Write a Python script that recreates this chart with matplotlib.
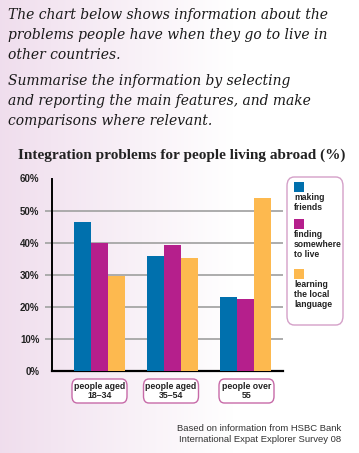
import numpy as np
import matplotlib
matplotlib.use("Agg")
import matplotlib.pyplot as plt
from matplotlib.patches import FancyBboxPatch, Rectangle

groups = ["people aged\n18–34", "people aged\n35–54", "people over\n55"]
series = ["making\nfriends", "finding\nsomewhere\nto live", "learning\nthe local\nlanguage"]
making_friends = [46.5, 36, 23]
finding_home = [40, 39.2, 22.3]
learning_language = [29.5, 35.3, 54]
colors = ["#0070ad", "#b51f8c", "#fdb94f"]
yticks = [0, 10, 20, 30, 40, 50, 60]

W, H = 359, 453
fig = plt.figure(figsize=(W / 100, H / 100), dpi=100)

# pinkish gradient background
bg = fig.add_axes([0, 0, 1, 1], zorder=-10)
grad = np.clip(np.linspace(0, 1, 256) / 0.65, 0, 1)
left = np.array([0.94, 0.87, 0.93])
img = left[None, :] * (1 - grad[:, None]) + np.ones(3)[None, :] * grad[:, None]
bg.imshow(img[None, :, :], aspect="auto", extent=[0, 1, 0, 1])
bg.axis("off")

def fx(px):
    return px / W

def fy(py):
    return 1 - py / H

prompt1 = "The chart below shows information about the\nproblems people have when they go to live in\nother countries."
prompt2 = "Summarise the information by selecting\nand reporting the main features, and make\ncomparisons where relevant."
for txt, top in [(prompt1, 8), (prompt2, 74)]:
    fig.text(fx(8), fy(top), txt, ha="left", va="top", family="DejaVu Serif",
             style="italic", fontsize=10.0, linespacing=1.56, color="#1a1a1a")

fig.text(fx(182), fy(155), "Integration problems for people living abroad (%)",
         ha="center", va="center", family="Liberation Serif", fontweight="bold",
         fontsize=11.0, color="#222222")

ax = fig.add_axes([fx(52), fy(371), fx(283) - fx(52), fy(178.5) - fy(371)])
ax.patch.set_alpha(0)
x = np.arange(len(groups))
w = 0.235
for i, (vals, c) in enumerate(zip([making_friends, finding_home, learning_language], colors)):
    ax.bar(x + (i - 1) * w, vals, width=w, color=c, zorder=3)

for yv in yticks[1:-1]:
    ax.hlines(yv, -0.03, 1, transform=ax.get_yaxis_transform(), color="#a6a6a6",
              lw=1.3, clip_on=False, zorder=1)

ax.set_ylim(0, 60)
ax.set_xlim(-0.65, 2.51)
ax.set_yticks(yticks)
ax.set_yticklabels([f"{v}%" for v in yticks], fontweight="bold", fontsize=7,
                   family="Liberation Sans", color="#222222")
ax.tick_params(axis="y", length=0, pad=9)
ax.set_xticks([])
for s in ["top", "right"]:
    ax.spines[s].set_visible(False)
ax.spines["left"].set_linewidth(1.4)
ax.spines["bottom"].set_linewidth(1.6)

# category label boxes
box_centers = [99.5, 171, 246.5]
for g, cx in zip(groups, box_centers):
    bw, bh = 55, 24
    fig.patches.append(FancyBboxPatch((fx(cx - bw / 2), fy(403)), fx(bw), fy(379) - fy(403),
                                      boxstyle="round,pad=0,rounding_size=0.015",
                                      transform=fig.transFigure, facecolor="white",
                                      edgecolor="#c76aa8", lw=1.0))
    fig.text(fx(cx), fy(391), g, ha="center", va="center", fontsize=6.3,
             fontweight="bold", family="Liberation Sans", linespacing=1.0, color="#222222")

# legend box
fig.patches.append(FancyBboxPatch((fx(287), fy(325)), fx(56), fy(177) - fy(325),
                                  boxstyle="round,pad=0,rounding_size=0.02",
                                  transform=fig.transFigure, facecolor="white",
                                  edgecolor="#d4a0c8", lw=1.0))
sq_tops = [182, 219, 269]
for lab, c, t in zip(series, colors, sq_tops):
    fig.patches.append(Rectangle((fx(294), fy(t + 10)), fx(10), fy(t) - fy(t + 10),
                                 transform=fig.transFigure, facecolor=c, edgecolor="none"))
    fig.text(fx(294), fy(t + 11), lab, ha="left", va="top", fontsize=6.2,
             fontweight="bold", family="Liberation Sans", linespacing=1.15, color="#222222")

fig.text(fx(341), fy(434), "Based on information from HSBC Bank\nInternational Expat Explorer Survey 08",
         ha="right", va="center", fontsize=6.8, family="Liberation Sans",
         linespacing=1.15, color="#333333")

fig.savefig("out.png", dpi=100)
